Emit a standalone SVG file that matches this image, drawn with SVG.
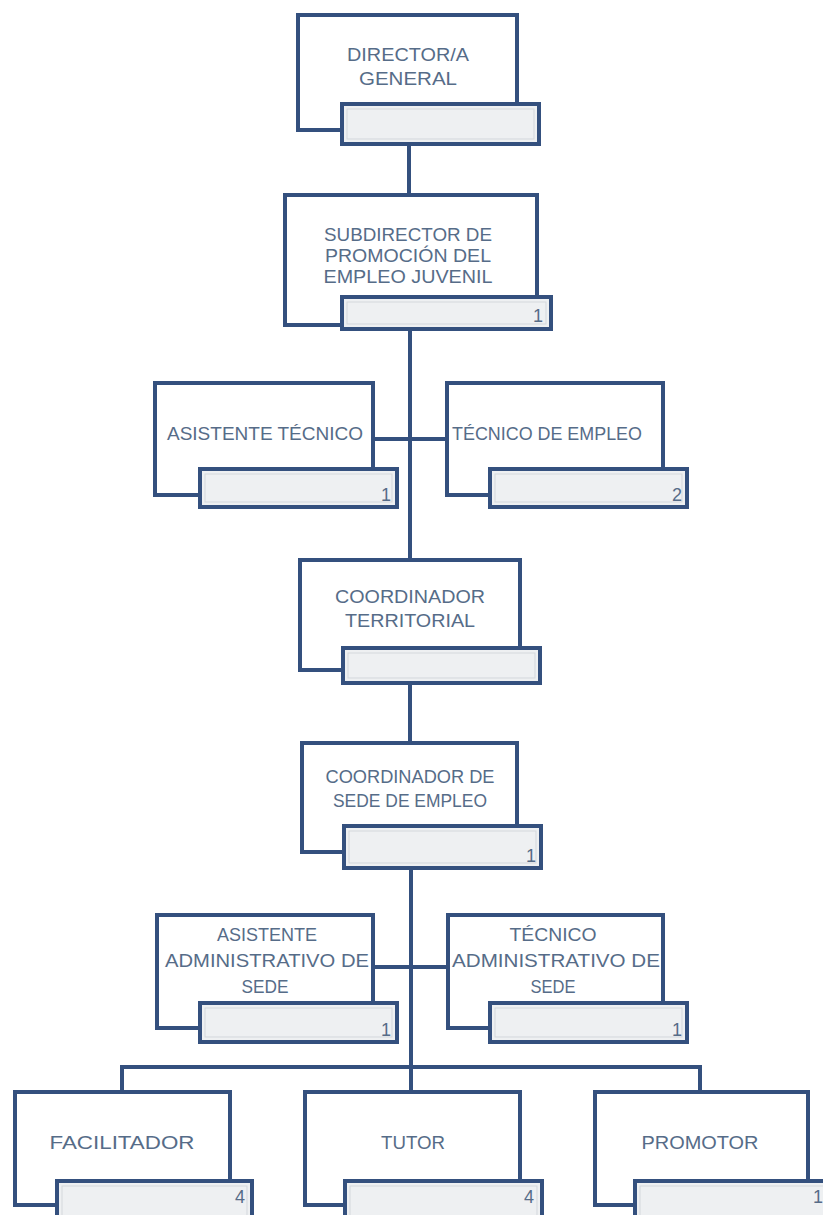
<svg xmlns="http://www.w3.org/2000/svg" width="823" height="1215" viewBox="0 0 823 1215">
<style>
.box{fill:#ffffff;stroke:#34507e;stroke-width:4}
.sub{fill:#eef0f2;stroke:#34507e;stroke-width:4}
.in{fill:none;stroke:#d3d7dc;stroke-width:1}
.t{font-family:"Liberation Sans",Arial,sans-serif;font-size:19px;fill:#566c88;text-anchor:middle}
.n{font-family:"Liberation Sans",Arial,sans-serif;font-size:18px;fill:#566c88;text-anchor:middle}
.c{fill:none;stroke:#34507e;stroke-width:4}
</style>
<rect width="823" height="1215" fill="#ffffff"/>
<g id="connectors">
<line class="c" x1="409" y1="144" x2="409" y2="195"/>
<line class="c" x1="410" y1="330" x2="410" y2="560"/>
<line class="c" x1="373" y1="439" x2="447" y2="439"/>
<line class="c" x1="410" y1="683" x2="410" y2="743"/>
<line class="c" x1="411" y1="868" x2="411" y2="1092"/>
<line class="c" x1="373" y1="967" x2="448" y2="967"/>
<polyline class="c" points="122,1092 122,1067 700,1067 700,1092"/>
</g>
<g id="director">
<rect class="box" x="298" y="15" width="219" height="115"/>
<rect class="sub" x="342" y="104" width="197" height="40"/>
<rect class="in" x="347" y="109" width="187" height="30"/>
<text class="t" x="408" y="61" textLength="122" lengthAdjust="spacingAndGlyphs">DIRECTOR/A</text>
<text class="t" x="408" y="85" textLength="98" lengthAdjust="spacingAndGlyphs">GENERAL</text>
</g>
<g id="subdirector">
<rect class="box" x="285" y="195" width="252" height="130"/>
<rect class="sub" x="342" y="297" width="209" height="32"/>
<rect class="in" x="347" y="302" width="199" height="22"/>
<text class="t" x="408" y="241" textLength="168" lengthAdjust="spacingAndGlyphs">SUBDIRECTOR DE</text>
<text class="t" x="408" y="262" textLength="166" lengthAdjust="spacingAndGlyphs">PROMOCIÓN DEL</text>
<text class="t" x="408" y="283" textLength="169" lengthAdjust="spacingAndGlyphs">EMPLEO JUVENIL</text>
<text class="n" x="538" y="322">1</text>
</g>
<g id="asistente-tecnico">
<rect class="box" x="155" y="383" width="218" height="112"/>
<rect class="sub" x="200" y="469" width="197" height="38"/>
<rect class="in" x="205" y="474" width="187" height="28"/>
<text class="t" x="265" y="440" textLength="196" lengthAdjust="spacingAndGlyphs">ASISTENTE TÉCNICO</text>
<text class="n" x="386" y="501">1</text>
</g>
<g id="tecnico-empleo">
<rect class="box" x="447" y="383" width="216" height="112"/>
<rect class="sub" x="490" y="469" width="197" height="38"/>
<rect class="in" x="495" y="474" width="187" height="28"/>
<text class="t" x="547" y="440" textLength="190" lengthAdjust="spacingAndGlyphs">TÉCNICO DE EMPLEO</text>
<text class="n" x="677" y="501">2</text>
</g>
<g id="coordinador-territorial">
<rect class="box" x="300" y="560" width="220" height="110"/>
<rect class="sub" x="343" y="648" width="197" height="35"/>
<rect class="in" x="348" y="653" width="187" height="25"/>
<text class="t" x="410" y="603" textLength="150" lengthAdjust="spacingAndGlyphs">COORDINADOR</text>
<text class="t" x="410" y="627" textLength="130" lengthAdjust="spacingAndGlyphs">TERRITORIAL</text>
</g>
<g id="coordinador-sede">
<rect class="box" x="302" y="743" width="215" height="109"/>
<rect class="sub" x="344" y="826" width="197" height="42"/>
<rect class="in" x="349" y="831" width="187" height="32"/>
<text class="t" x="410" y="783" textLength="169" lengthAdjust="spacingAndGlyphs">COORDINADOR DE</text>
<text class="t" x="410" y="807" textLength="154" lengthAdjust="spacingAndGlyphs">SEDE DE EMPLEO</text>
<text class="n" x="531" y="862">1</text>
</g>
<g id="asistente-administrativo">
<rect class="box" x="157" y="915" width="216" height="113"/>
<rect class="sub" x="200" y="1003" width="197" height="39"/>
<rect class="in" x="205" y="1008" width="187" height="29"/>
<text class="t" x="267" y="941" textLength="100" lengthAdjust="spacingAndGlyphs">ASISTENTE</text>
<text class="t" x="267" y="967" textLength="204" lengthAdjust="spacingAndGlyphs">ADMINISTRATIVO DE</text>
<text class="t" x="265" y="993" textLength="47" lengthAdjust="spacingAndGlyphs">SEDE</text>
<text class="n" x="386" y="1036">1</text>
</g>
<g id="tecnico-administrativo">
<rect class="box" x="448" y="915" width="215" height="113"/>
<rect class="sub" x="490" y="1003" width="197" height="39"/>
<rect class="in" x="495" y="1008" width="187" height="29"/>
<text class="t" x="553" y="941" textLength="87" lengthAdjust="spacingAndGlyphs">TÉCNICO</text>
<text class="t" x="556" y="967" textLength="208" lengthAdjust="spacingAndGlyphs">ADMINISTRATIVO DE</text>
<text class="t" x="553" y="993" textLength="45" lengthAdjust="spacingAndGlyphs">SEDE</text>
<text class="n" x="677" y="1036">1</text>
</g>
<g id="facilitador">
<rect class="box" x="15" y="1092" width="215" height="113"/>
<rect class="sub" x="57" y="1181" width="195" height="40"/>
<rect class="in" x="62" y="1186" width="185" height="30"/>
<text class="t" x="122" y="1149" textLength="145" lengthAdjust="spacingAndGlyphs">FACILITADOR</text>
<text class="n" x="240" y="1203">4</text>
</g>
<g id="tutor">
<rect class="box" x="305" y="1092" width="215" height="113"/>
<rect class="sub" x="345" y="1181" width="197" height="40"/>
<rect class="in" x="350" y="1186" width="187" height="30"/>
<text class="t" x="413" y="1149" textLength="64" lengthAdjust="spacingAndGlyphs">TUTOR</text>
<text class="n" x="529" y="1203">4</text>
</g>
<g id="promotor">
<rect class="box" x="595" y="1092" width="213" height="113"/>
<rect class="sub" x="635" y="1181" width="197" height="40"/>
<rect class="in" x="640" y="1186" width="187" height="30"/>
<text class="t" x="700" y="1149" textLength="117" lengthAdjust="spacingAndGlyphs">PROMOTOR</text>
<text class="n" x="818" y="1203">1</text>
</g>
</svg>
